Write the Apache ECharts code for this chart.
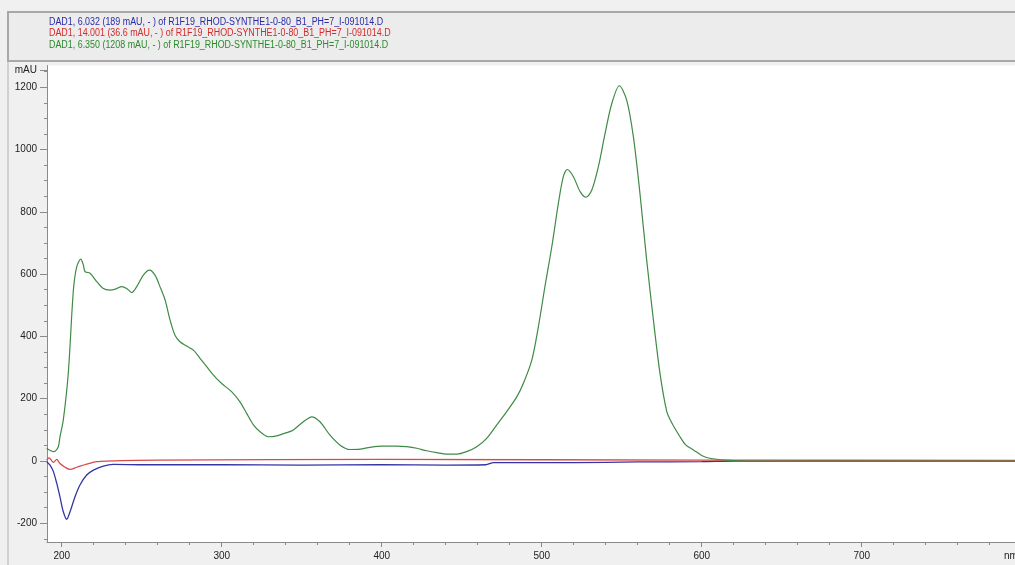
<!DOCTYPE html>
<html>
<head>
<meta charset="utf-8">
<script src="https://cdn.jsdelivr.net/npm/echarts@6/dist/echarts.min.js"></script>
<style>html,body{margin:0;padding:0;background:#f0f0f0;}#c{width:1015px;height:565px;}</style>
</head>
<body>
<div id="c"></div>
<script>
// Legend / header texts
const headerLines = [
  'DAD1, 6.032 (189 mAU, - ) of R1F19_RHOD-SYNTHE1-0-80_B1_PH=7_I-091014.D',
  'DAD1, 14.001 (36.6 mAU, - ) of R1F19_RHOD-SYNTHE1-0-80_B1_PH=7_I-091014.D',
  'DAD1, 6.350 (1208 mAU, - ) of R1F19_RHOD-SYNTHE1-0-80_B1_PH=7_I-091014.D'
];
const yLabelTicks = [-200, 0, 200, 400, 600, 800, 1000, 1200, 1255];
const yMinorTicks = [-250,-200,-150,-100,-50,0,50,100,150,200,250,300,350,400,450,500,550,600,650,700,750,800,850,900,950,1000,1050,1100,1150,1200,1250];
const xLabelTicks = [200, 300, 400, 500, 600, 700];
const xMinorTicks = [200,220,240,260,280,300,320,340,360,380,400,420,440,460,480,500,520,540,560,580,600,620,640,660,680,700,720,740,760,780];

// Blue trace (6.032 min)
const blueNm  = [190.6,192.7,194.8,196.9,198.9,201,203.1,205.2,208.3,211.4,215.6,219.8,226,232.3,250,300,350,400,440,465,470,520,560,600,620,680,796];
const blueVal = [-2,-13,-34,-72,-115,-163,-187,-163,-115,-77,-45,-29,-16,-11,-12,-12,-13,-12,-13,-12,-5,-5,-3,-2,0,0,0];
// Red trace (14.001 min)
const redNm  = [190.6,192.1,194.8,196.9,198.9,202.1,205.2,209.4,215.6,221.9,228.1,260,400,600,796];
const redVal = [3,10,-4,5,-8,-20,-27,-20,-10,-2,0,3,5,3,2];
// Green trace (6.350 min)
const greenNm  = [190.6,192,194.8,196,197.9,199,201,204.1,207.3,209.4,211.9,213.5,214.6,217.7,221.9,226,230.2,234,237.5,240.6,243.8,246.9,251,254.8,258.3,261.4,264.6,267.7,270.8,273.9,278.1,282.3,286.4,290.6,294.8,300,306.3,311.4,315.6,319.8,324,329.1,334.4,340.6,344.8,351,356.3,361.4,367.7,374,380.2,386.4,392.7,400,409.4,415.6,421.9,428,434.4,440.6,446.9,453,459.4,465.6,471.9,478,484.4,488.5,493.8,497.9,502,506.3,510.4,513.5,516,519.8,524,527.7,531.3,535.4,539.6,543.8,548.5,553.1,557.3,561.4,565.6,569.8,573.9,578.1,581,586.4,590,595,600,605,615,630,700,796];
const greenVal = [41,36,30,32,46,80,132,282,549,624,648,630,608,603,576,554,549,553,560,554,541,560,597,613,597,560,517,453,404,383,369,356,330,303,276,249,222,190,153,116,94,78,81,91,100,126,142,126,83,51,37,38,44,48,48,46,41,33,27,22,22,30,46,73,116,158,206,249,324,431,560,688,827,913,936,913,865,847,870,945,1052,1148,1205,1159,1041,859,645,453,282,160,125,78,52,35,18,9,3,0,0,0];

const zip = (a, b) => a.map((v, i) => [v, b[i]]);
const chart = echarts.init(document.getElementById('c'), null, {renderer: 'canvas'});
const titleColors = ['#2a2aa8', '#d42a2a', '#2a8a2a'];
const labelStyle = {color: '#222', fontSize: 10, fontFamily: 'Liberation Sans, Arial, sans-serif'};
const axisColor = '#8a8a8a';

const headerGraphics = headerLines.map((t, i) => ({
  type: 'text', x: 49, y: 17 + i * 11.5, scaleX: 0.89, scaleY: 1,
  style: {text: t, fill: titleColors[i], font: '10px "Liberation Sans", Arial, sans-serif', textVerticalAlign: 'top'}
}));

chart.setOption({
  backgroundColor: '#f0f0f0',
  animation: false,
  graphic: [
    {type: 'rect', shape: {x: 8, y: 12, width: 1010, height: 49}, style: {fill: '#ececec', stroke: '#a8a8a8', lineWidth: 2}, z: -1},
    {type: 'line', shape: {x1: 8, y1: 61, x2: 8, y2: 565}, style: {stroke: '#b0b0b0', lineWidth: 1}},
    {type: 'text', left: 1004, top: 551, style: {text: 'nm', fill: '#222', font: '10px Liberation Sans, Arial, sans-serif'}}
  ].concat(headerGraphics),
  grid: {left: 47, right: 0, top: 65.5, bottom: 23, show: true, backgroundColor: '#ffffff', borderWidth: 0},
  xAxis: [
    {type: 'value', min: 190.8, max: 795.8, position: 'bottom',
     axisLine: {show: true, onZero: false, lineStyle: {color: axisColor}},
     axisTick: {show: true, length: 3, customValues: xMinorTicks, lineStyle: {color: axisColor}},
     axisLabel: {show: true, customValues: xLabelTicks, margin: 9, ...labelStyle},
     splitLine: {show: false}},
    {type: 'value', min: 190.8, max: 795.8, position: 'bottom',
     axisLine: {show: false, onZero: false},
     axisTick: {show: true, length: 5, customValues: xLabelTicks, lineStyle: {color: axisColor}},
     axisLabel: {show: false}, splitLine: {show: false}}
  ],
  yAxis: [
    {type: 'value', min: -260, max: 1270, position: 'left',
     axisLine: {show: true, onZero: false, lineStyle: {color: axisColor}},
     axisTick: {show: true, length: 3, customValues: yMinorTicks, lineStyle: {color: axisColor}},
     axisLabel: {show: false}, splitLine: {show: false}},
    {type: 'value', min: -260, max: 1270, position: 'left',
     axisLine: {show: false, onZero: false},
     axisTick: {show: true, length: 7, customValues: yLabelTicks, lineStyle: {color: axisColor}},
     axisLabel: {show: true, customValues: yLabelTicks, margin: 10, ...labelStyle,
       formatter: v => (v === 1255 ? 'mAU' : String(v))},
     splitLine: {show: false}}
  ],
  series: [
    {type: 'line', name: 'blue', data: zip(blueNm, blueVal), showSymbol: false, smooth: 0.3, lineStyle: {color: '#3434a6', width: 1.3}, clip: true},
    {type: 'line', name: 'red', data: zip(redNm, redVal), showSymbol: false, smooth: 0.3, lineStyle: {color: '#d84a4a', width: 1.3}, clip: true},
    {type: 'line', name: 'green', data: zip(greenNm, greenVal), showSymbol: false, smooth: 0.3, lineStyle: {color: '#3f8a46', width: 1.2}, clip: true}
  ]
});
</script>
</body>
</html>
